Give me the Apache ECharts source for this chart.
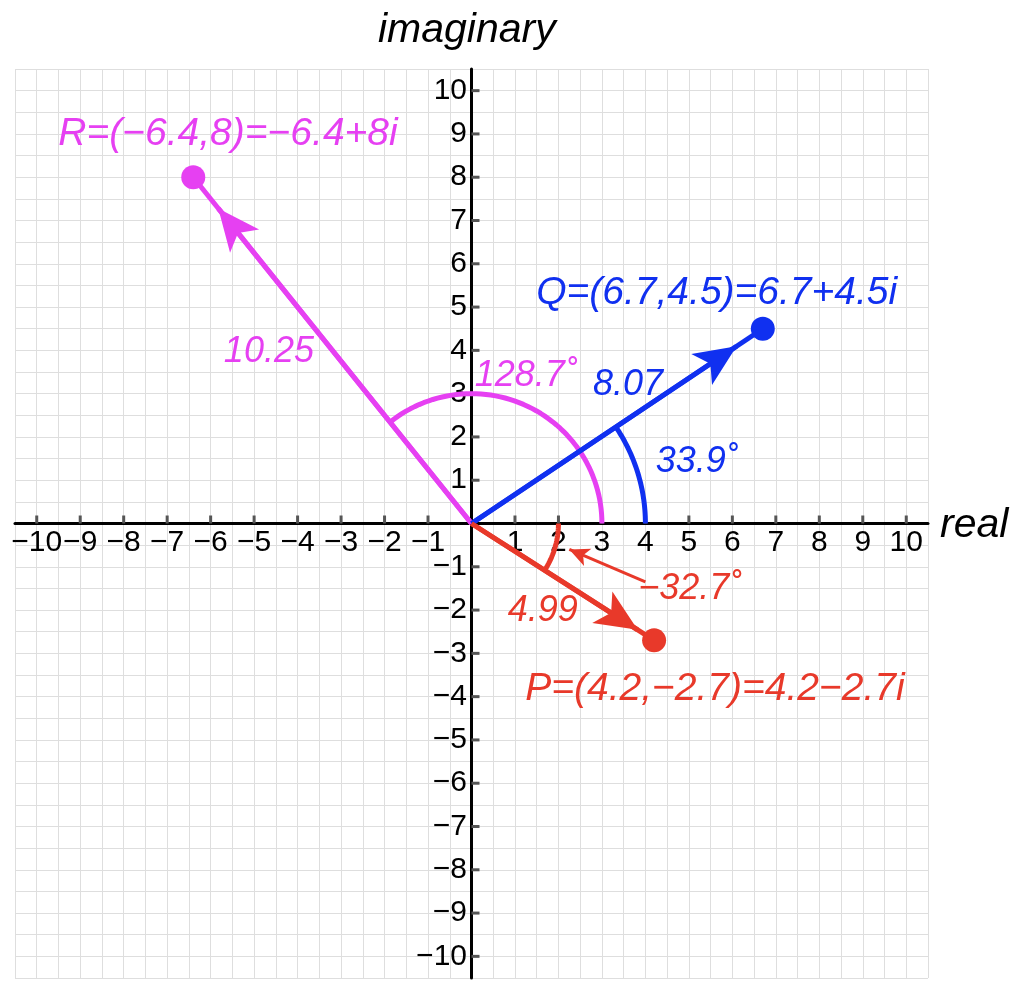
<!DOCTYPE html>
<html><head><meta charset="utf-8">
<script src="https://cdn.jsdelivr.net/npm/echarts@6/dist/echarts.min.js"></script>
<style>html,body{margin:0;padding:0;background:#fff}#c{width:1024px;height:1002px}</style>
</head><body><div id="c"></div>
<script>
const ticks = [-10,-9,-8,-7,-6,-5,-4,-3,-2,-1,0,1,2,3,4,5,6,7,8,9,10];
const points = {P:[4.2,-2.7], Q:[6.7,4.5], R:[-6.4,8]};
const moduli = {P:'4.99', Q:'8.07', R:'10.25'};
const angles = {P:-32.7, Q:33.9, R:128.7};
const arcRadius = {P:2, Q:4, R:3};
const colors = {P:'#e8392a', Q:'#1030f0', R:'#e640f2'};
const labels = [
  {t:'R=(−6.4,8)=−6.4+8i', p:[-5.6,9.0], c:'R', s:39},
  {t:'10.25', p:[-4.66,3.97], c:'R', s:36},
  {t:'128.7˚', p:[1.25,3.4], c:'R', s:36},
  {t:'Q=(6.7,4.5)=6.7+4.5i', p:[5.64,5.33], c:'Q', s:39},
  {t:'8.07', p:[3.6,3.2], c:'Q', s:36},
  {t:'33.9˚', p:[5.18,1.43], c:'Q', s:36},
  {t:'−32.7˚', p:[5.02,-1.52], c:'P', s:36},
  {t:'4.99', p:[1.64,-2.03], c:'P', s:36},
  {t:'P=(4.2,−2.7)=4.2−2.7i', p:[5.6,-3.83], c:'P', s:39}
];
const fmt = v => (v<0?'−'+(-v):String(v));
const series = [];
function arc(r, a0, a1){const out=[];const n=60;for(let i=0;i<=n;i++){const a=(a0+(a1-a0)*i/n)*Math.PI/180;out.push([r*Math.cos(a),r*Math.sin(a)]);}return out;}
for (const k of ['R','Q','P']) {
  const [x,y]=points[k]; const col=colors[k];
  series.push({type:'line',data:arc(arcRadius[k],0,angles[k]),symbol:'none',lineStyle:{color:col,width:5},z:3});
  series.push({type:'line',data:[[0,0],[x,y]],symbol:'none',lineStyle:{color:col,width:5},z:4,
    markLine:{silent:true,symbol:['none','arrow'],symbolSize:[28,42],lineStyle:{color:col,width:5,type:'solid',opacity:1},itemStyle:{color:col},label:{show:false},
      data:[[{coord:[0,0]},{coord:[x*0.91,y*0.91]}]]}});
  series.push({type:'scatter',data:[[x,y]],symbolSize:24,itemStyle:{color:col,opacity:1},z:5});
}
series.push({type:'line',data:[],markLine:{silent:true,symbol:['none','arrow'],symbolSize:[14,20],lineStyle:{color:colors.P,width:3,type:'solid',opacity:1},label:{show:false},
  data:[[{coord:[4.0,-1.35]},{coord:[2.25,-0.6]}]]}});
series.push({type:'scatter',symbolSize:1,itemStyle:{opacity:0},z:6,data:labels.map(l=>({value:l.p,label:{show:true,position:'inside',formatter:l.t,color:colors[l.c],opacity:1,fontSize:l.s,fontStyle:'italic',fontFamily:'Liberation Sans'}}))});
const chart = echarts.init(document.getElementById('c'));
const axisCommon = {type:'value',min:-10.5,max:10.5,interval:0.5,
  axisLine:{onZero:true,lineStyle:{color:'#000',width:3}},
  axisTick:{show:false},
  splitLine:{show:true,lineStyle:{color:'#dedede',width:1}},
  axisLabel:{show:false}};
const tickLabel = pos => ({show:true,position:pos,distance:4,color:'#000',opacity:1,fontSize:30,fontFamily:'Liberation Sans'});
chart.setOption({
  animation:false,
  grid:{left:15,right:96,top:69,bottom:24},
  xAxis:axisCommon, yAxis:axisCommon,
  graphic:[
    {type:'text',left:378,top:10,style:{text:'imaginary',font:'italic 41px Liberation Sans',fill:'#000'}},
    {type:'text',left:940,top:505,style:{text:'real',font:'italic 41px Liberation Sans',fill:'#000'}}
  ],
  series:series.concat([
    {type:'scatter',symbolSize:1,itemStyle:{opacity:0},data:ticks.filter(t=>t!==0).map(t=>({value:[t,0],label:Object.assign(tickLabel('bottom'),{formatter:fmt(t)})}))},
    {type:'scatter',symbolSize:1,itemStyle:{opacity:0},data:ticks.filter(t=>t!==0).map(t=>({value:[0,t],label:Object.assign(tickLabel('left'),{formatter:fmt(t)})}))},
    {type:'scatter',symbol:'rect',symbolSize:[3,8],symbolOffset:[0,-4],itemStyle:{color:'#555',opacity:1},data:ticks.filter(t=>t!==0).map(t=>[t,0])},
    {type:'scatter',symbol:'rect',symbolSize:[8,3],symbolOffset:[4,0],itemStyle:{color:'#555',opacity:1},data:ticks.filter(t=>t!==0).map(t=>[0,t])}
  ])
});
</script></body></html>
